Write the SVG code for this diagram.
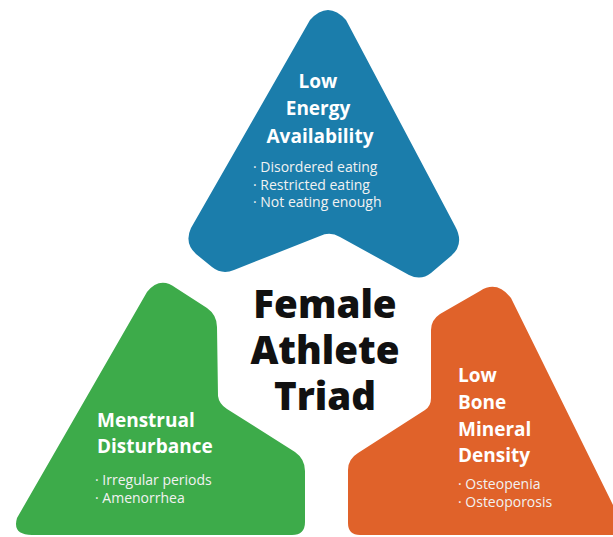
<svg xmlns="http://www.w3.org/2000/svg" width="613" height="537" viewBox="0 0 613 537">
<style>
.title{font-family:"Open Sans","Liberation Sans",sans-serif;font-weight:700;font-size:19px;fill:#ffffff}
.item{font-family:"Open Sans","Liberation Sans",sans-serif;font-weight:400;font-size:14px;fill:#f2f2f2}
.main{font-family:"Open Sans","Liberation Sans",sans-serif;font-weight:800;font-size:38.5px;fill:#111111;text-anchor:middle}
.c{text-anchor:middle}
</style>
<rect width="613" height="537" fill="#ffffff"/>
<g id="connectors"/>
<g id="low-energy">
<path fill="#1b7dab" d="M 310,20 Q 328,0 346,20 L 455,226 Q 465,244 451,256 L 431,273 Q 421,281 409,275 L 340,237 Q 330,231 320,236 L 234,270 Q 222,275 212,267 L 196,254 Q 184,243 191,228 Z"/>
<text class="title c" x="318" y="88">Low</text>
<text class="title c" x="318" y="115">Energy</text>
<text class="title c" x="320" y="143">Availability</text>
<text class="item" x="253" y="172">· Disordered eating</text>
<text class="item" x="253" y="190">· Restricted eating</text>
<text class="item" x="253" y="207">· Not eating enough</text>
</g>
<g id="menstrual">
<path fill="#3dab4a" d="M 147,292 Q 160,276 176,288 L 207,308 Q 217,315 217,327 L 218,396 Q 219,404 227,409 L 295,452 Q 305,459 305,471 L 305,522 Q 305,535 292,535 L 32,535 Q 12,535 17,518 Z"/>
<text class="title" x="97" y="427">Menstrual</text>
<text class="title" x="97" y="453">Disturbance</text>
<text class="item" x="95" y="485">· Irregular periods</text>
<text class="item" x="95" y="503">· Amenorrhea</text>
</g>
<g id="bone">
<path fill="#e0622a" d="M 480,291 Q 497,280 511,298 L 613,505 L 613,535 L 360,535 Q 348,535 348,523 L 348,470 Q 348,459 358,453 L 425,410 Q 431,406 431,398 L 431,330 Q 431,320 440,314 Z"/>
<text class="title" x="458" y="382">Low</text>
<text class="title" x="458" y="409">Bone</text>
<text class="title" x="458" y="436">Mineral</text>
<text class="title" x="458" y="462">Density</text>
<text class="item" x="458" y="489">· Osteopenia</text>
<text class="item" x="458" y="507">· Osteoporosis</text>
</g>
<g id="center">
<text class="main"><tspan x="325" y="318">Female</tspan><tspan x="325" y="364">Athlete</tspan><tspan x="325" y="410">Triad</tspan></text>
</g>
</svg>
